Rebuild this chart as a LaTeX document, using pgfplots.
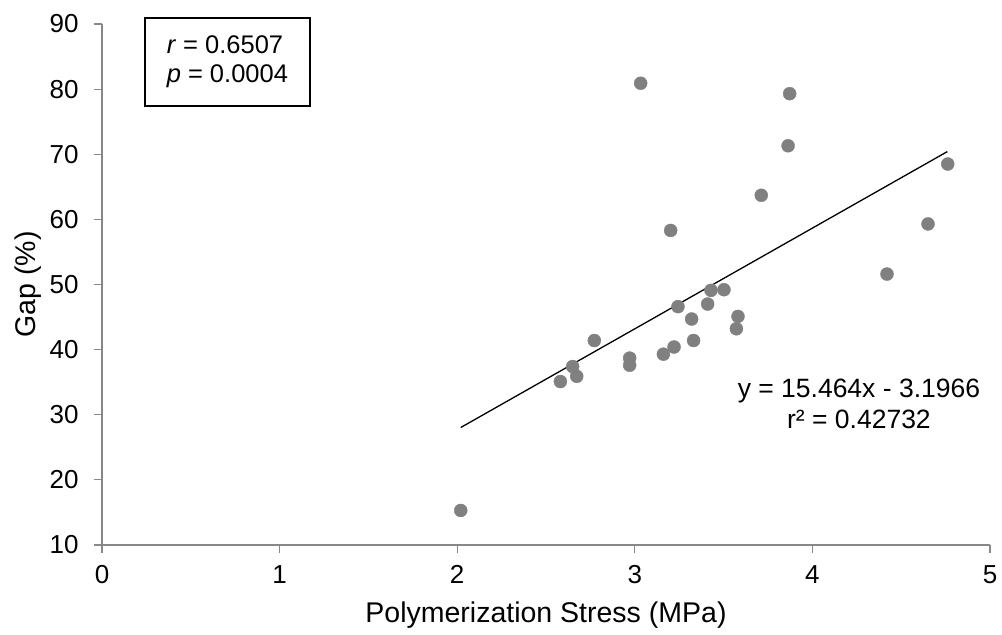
\documentclass[border=0pt]{standalone}
\usepackage{fontspec}
\setmainfont{Liberation Sans}
\usepackage{pgfplots}
\pgfplotsset{compat=1.18}
\definecolor{dotgray}{HTML}{808080}
\definecolor{axgray}{HTML}{888888}

\begin{document}
\begin{tikzpicture}
\begin{axis}[
  name=ax,
  scale only axis, width=888pt, height=521pt,
  xmin=0, xmax=5, ymin=10, ymax=90,
  xtick={0,1,2,3,4,5}, ytick={10,20,...,90},
  axis x line*=bottom, axis y line*=left,
  axis line style={axgray, line width=1.2pt},
  tick style={axgray, line width=1.2pt},
  tick align=outside, major tick length=8pt,
  /pgf/number format/assume math mode=true,
  tick label style={font=\fontsize{26}{30}\selectfont, text=black},
  xticklabel style={yshift=-9pt},
  yticklabel style={xshift=-12pt},
  label style={font=\fontsize{28.5}{33}\selectfont},
  xlabel={Polymerization Stress (MPa)},
  ylabel={Gap (\%)},
  xlabel style={at={(axis description cs:0.5,-0.134)}, anchor=center},
  ylabel style={at={(axis description cs:-0.0833,0.5)}, anchor=center},
  clip=false,
]
% data points
\addplot[only marks, mark=*, mark size=6.5pt, dotgray, mark options={draw=dotgray, fill=dotgray}]
  coordinates {
  (3.033,80.9) (3.872,79.3) (3.863,71.3) (4.762,68.5) (3.712,63.7)
  (3.202,58.3) (4.651,59.3) (4.420,51.6) (3.429,49.1) (3.502,49.2)
  (3.410,47.0) (3.243,46.6) (3.320,44.7) (3.581,45.1) (3.572,43.2)
  (2.772,41.4) (3.331,41.4) (3.221,40.4) (3.161,39.3) (2.971,38.7)
  (2.971,37.6) (2.650,37.4) (2.673,35.9) (2.581,35.1) (2.020,15.3)
  };
% trend line y = 15.464x - 3.1966
\addplot[black, line width=1.3pt] coordinates {(2.02,28.04) (4.76,70.41)};
\node[font=\fontsize{26.5}{31}\selectfont, align=center] at (axis cs:4.262,31.6)
  {y = 15.464x - 3.1966\\r² = 0.42732};
% stats box
\draw[black, line width=1.3pt, fill=white] (axis cs:0.242,90.9) rectangle (axis cs:1.171,77.4);
\node[font=\fontsize{25.5}{29}\selectfont, align=left] at (axis cs:0.706,84.15)
  {\textit{r} = 0.6507\\\textit{p} = 0.0004};
\end{axis}
\pgfresetboundingbox
\path ([xshift=-102pt,yshift=-90pt]ax.south west) rectangle ([xshift=12pt,yshift=24pt]ax.north east);
\end{tikzpicture}
\end{document}
